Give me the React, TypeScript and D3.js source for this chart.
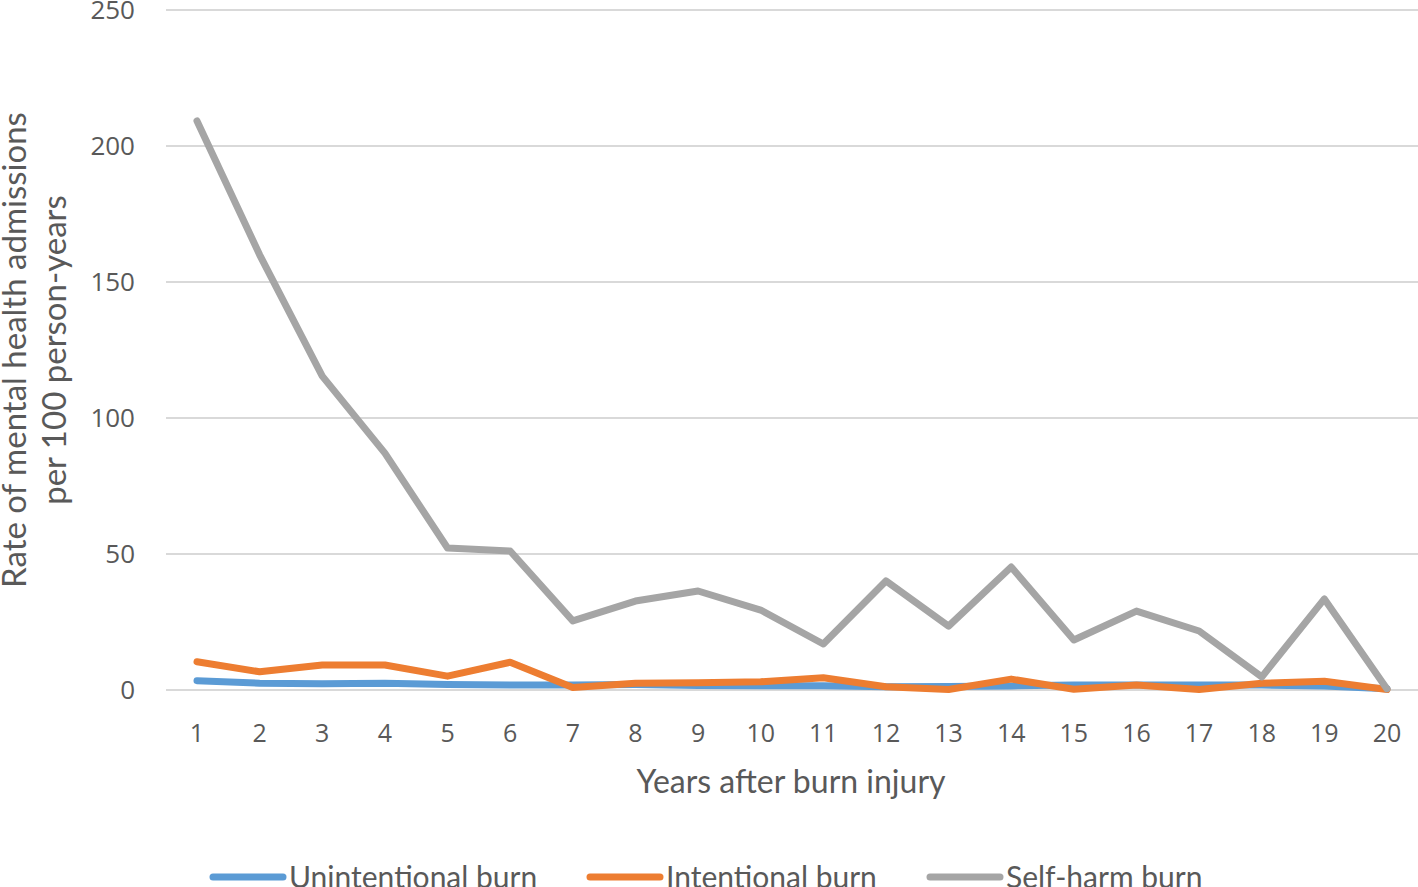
import React from "react";
import * as d3 from "d3";

const years = [1,2,3,4,5,6,7,8,9,10,11,12,13,14,15,16,17,18,19,20];
const unintentional = [3.4,2.5,2.3,2.5,2.0,1.8,1.8,2.0,1.7,1.6,1.6,1.2,1.3,1.5,1.8,1.8,1.8,1.8,1.5,0.5];
const intentional = [10.4,6.7,9.2,9.2,5.1,10.2,0.9,2.5,2.7,3.0,4.5,1.2,0.2,4.0,0.3,1.8,0.2,2.5,3.2,0.2];
const selfHarm = [209.2,160,115.4,87.1,52.2,51.1,25.4,32.7,36.4,29.4,16.9,40.1,23.5,45.2,18.4,29.0,21.7,4.8,33.5,0.4];
const yTicks = [0,50,100,150,200,250];
const seriesNames = ["Unintentional burn","Intentional burn","Self-harm burn"];
const colors = ["#5b9bd5","#ed7d31","#a5a5a5"];

export default function App() {
  const W = 1418, H = 887;
  const left = 166, right = 1418, top = 10, bottom = 690;
  const x = d3.scalePoint<number>().domain(years).range([197, 1387]);
  const y = d3.scaleLinear().domain([0, 250]).range([bottom, top]);
  const line = d3.line<number>().x((_, i) => x(years[i])!).y(d => y(d));
  const series = [unintentional, intentional, selfHarm];
  const font = "Lato, 'Open Sans', sans-serif";
  const tickFont = "'Open Sans', sans-serif";
  const txt = "#595959";
  const legendX = [213, 590, 930];
  return (
    <svg width={W} height={H} style={{ position: "absolute", left: 0, top: 0, background: "#fff" }}>
      {yTicks.map(t => (
        <g key={t}>
          <line x1={left} x2={right} y1={y(t)} y2={y(t)} stroke="#d9d9d9" strokeWidth={2} />
          <text x={135} y={y(t)} dy="0.36em" textAnchor="end" fontFamily={tickFont} fontSize={26} fill={txt}>{t}</text>
        </g>
      ))}
      {years.map(v => (
        <text key={v} x={x(v)} y={742} textAnchor="middle" fontFamily={tickFont} fontSize={25} fill={txt}>{v}</text>
      ))}
      {series.map((s, i) => (
        <path key={i} d={line(s)!} fill="none" stroke={colors[i]} strokeWidth={7} strokeLinejoin="round" strokeLinecap="round" />
      ))}
      <text x={791} y={793} textAnchor="middle" fontFamily={font} fontSize={32} fill={txt}>Years after burn injury</text>
      <text transform="translate(26,350) rotate(-90)" textAnchor="middle" fontFamily={font} fontSize={33} fill={txt}>Rate of mental health admissions</text>
      <text transform="translate(66,350) rotate(-90)" textAnchor="middle" fontFamily={font} fontSize={33} fill={txt}>per 100 person-years</text>
      {seriesNames.map((n, i) => (
        <g key={n}>
          <line x1={legendX[i]} x2={legendX[i] + 70} y1={877} y2={877} stroke={colors[i]} strokeWidth={7} strokeLinecap="round" />
          <text x={legendX[i] + 76} y={888} fontFamily={font} fontSize={30} fill={txt}>{n}</text>
        </g>
      ))}
    </svg>
  );
}
